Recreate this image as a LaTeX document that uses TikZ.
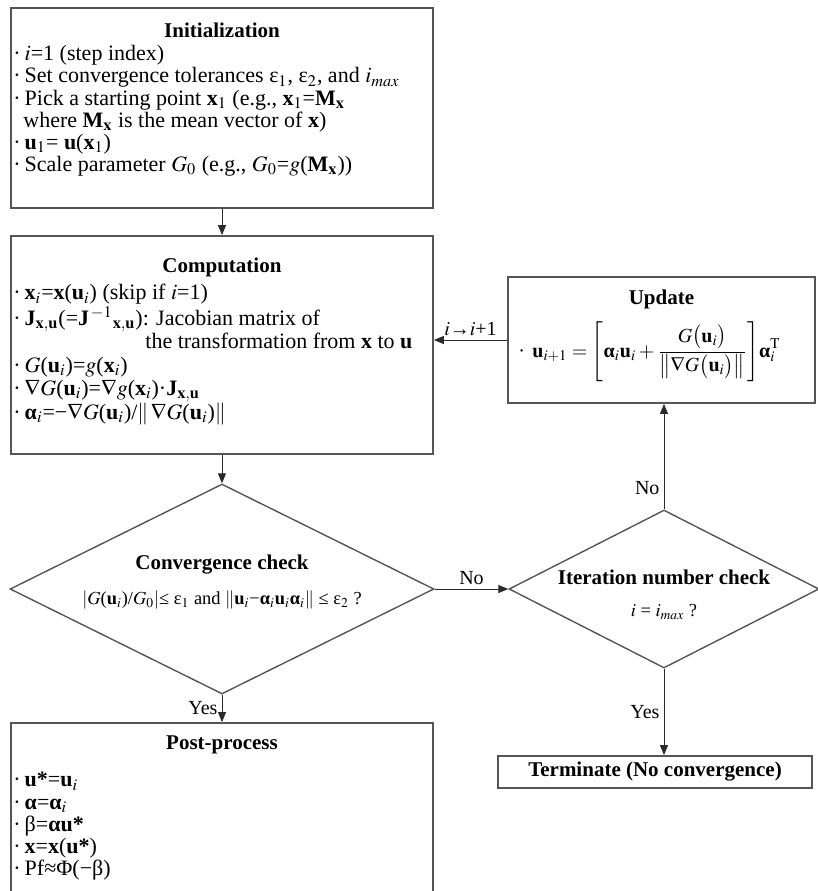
\documentclass[tikz,border=0pt]{standalone}
\usepackage{mathptmx}
\usepackage{fontspec}
\setmainfont{Liberation Serif}
\usetikzlibrary{positioning, shapes.geometric, arrows.meta}
\definecolor{boxline}{HTML}{555555}
\definecolor{flowline}{HTML}{2A2A2A}
\newcommand{\vecu}{\textbf{u}}
\newcommand{\vecx}{\textbf{x}}
\newcommand{\vecal}{\textbf{α}}
\newcommand{\bul}{·\hspace{2pt}}

\tikzset{
  stagebox/.style={rectangle, draw=boxline, line width=0.9pt, inner sep=0pt},
  stagetitle/.style={font=\fontsize{10.5}{12}\selectfont\bfseries, inner sep=0pt},
  stagetext/.style={font=\fontsize{11}{11.1}\selectfont, align=left, inner sep=0pt, anchor=north west},
  checkbox/.style={diamond, draw=boxline, line width=0.7pt, inner sep=0pt},
  checktext/.style={font=\fontsize{9.2}{11}\selectfont, inner sep=0pt},
  flow/.style={draw=flowline, line width=0.5pt, -{Triangle[length=5pt,width=4pt]}},
  flowlabel/.style={font=\fontsize{10}{12}\selectfont, inner sep=2pt}
}

\begin{document}
\begin{tikzpicture}[x=0.5pt, y=-0.5pt]
  \useasboundingbox (0,0) rectangle (818,891);

  % initialization
  \node[stagebox, minimum width=211pt, minimum height=100pt] (init) at (222,108) {};
  \node[stagetitle, below=7.5pt of init.north] (inittitle) {Initialization};
  \node[stagetext] (initbody) at (13,45) {%
    \bul$i$=1 (step index)\\
    \bul Set convergence tolerances ε$_1$, ε$_2$, and $i_{max}$\\
    \bul Pick a starting point \vecx$_1$ (e.g., \vecx$_1$=\textbf{M}$_{\mathbf{x}}$\\
    \hspace*{5pt}where \textbf{M}$_{\mathbf{x}}$ is the mean vector of \vecx)\\
    \bul\vecu$_1$= \vecu(\vecx$_1$)\\
    \bul Scale parameter $G_0$ (e.g., $G_0$=$g$(\textbf{M}$_{\mathbf{x}}$))};

  % computation
  \node[stagebox, minimum width=211pt, minimum height=109pt] (comp) at (222,345) {};
  \node[stagetitle, below=11pt of comp.north] (comptitle) {Computation};
  \node[stagetext, font=\fontsize{11}{11.7}\selectfont] (compbody) at (13,284) {%
    \bul\vecx$_i$=\vecx(\vecu$_i$) (skip if $i$=1)\\
    \bul\textbf{J}$_{\mathbf{x,u}}$(=\textbf{J}$^{\,-1}$$_{\mathbf{x,u}}$): Jacobian matrix of\\
    \hspace*{66pt}the transformation from \vecx{} to \vecu\\
    \bul$G$(\vecu$_i$)=$g$(\vecx$_i$)\\
    \bul$\nabla G$(\vecu$_i$)=$\nabla g$(\vecx$_i$)·\textbf{J}$_{\mathbf{x,u}}$\\
    \bul\vecal$_i$=−$\nabla G$(\vecu$_i$)/$\|\,\nabla G$(\vecu$_i$)$\|$};

  % update
  \node[stagebox, minimum width=153.5pt, minimum height=63pt] (update) at (661.5,340) {};
  \node[stagetitle, below=6.5pt of update.north] (updtitle) {Update};
  \node[stagetext, font=\fontsize{10}{11}\selectfont, anchor=west] (updbody) at (518,352) {%
    \bul\,$\mathbf{u}_{i+1} = \Biggl[\vecal_i\mathbf{u}_i
      + \displaystyle\frac{G\bigl(\mathbf{u}_i\bigr)}{\bigl\|\nabla G\bigl(\mathbf{u}_i\bigr)\bigr\|}\Biggr]\vecal_i^{\mathrm{T}}$};

  % checks
  \node[checkbox, minimum width=212pt, minimum height=105pt] (conv) at (222,589) {};
  \node[stagetitle] (convtitle) at (222,565) {Convergence check};
  \node[checktext] (convcond) at (222,600)
    {$|G$(\vecu$_i$)/$G_0|$≤ ε$_1$ and $\|$\vecu$_i$−\vecal$_i$\vecu$_i$\vecal$_i\|$ ≤ ε$_2$ ?};
  \node[checkbox, minimum width=155pt, minimum height=79pt] (iter) at (664,589) {};
  \node[stagetitle] (itertitle) at (664,577) {Iteration number check};
  \node[checktext] (itercond) at (664,612) {$i$ = $i_{max}$ ?};

  % post-process
  \node[stagebox, minimum width=211pt, minimum height=85pt] (post) at (222,808) {};
  \node[stagetitle, below=6.5pt of post.north] (posttitle) {Post-process};
  \node[stagetext] (postbody) at (13,772) {%
    \bul\textbf{u*}=\vecu$_i$\\
    \bul\vecal=\vecal$_i$\\
    \bul β=\textbf{αu*}\\
    \bul\vecx=\vecx(\textbf{u*})\\
    \bul Pf≈Φ(−β)};

  \node[stagebox, minimum width=157pt, minimum height=16pt, font=\fontsize{10.5}{12}\selectfont\bfseries]
    (term) at (655,772) {Terminate (No convergence)};

  % connectors
  \draw[flow] (init.south) -- (comp.north);
  \draw[flow] (comp.south) -- (conv.north);
  \draw[flow] (conv.south) -- (post.north) node[flowlabel, midway, left] {Yes};
  \draw[flow] (conv.east) -- (iter.west) node[flowlabel, midway, above] {No};
  \draw[flow] (iter.north) -- (iter.north |- update.south) node[flowlabel, pos=0.2, left] {No};
  \draw[flow] (iter.south) -- (iter.south |- term.north) node[flowlabel, midway, left] {Yes};
  \draw[flow] (update.west) -- (update.west -| comp.east) node[flowlabel, midway, above] {$i$→$i$+1};
\end{tikzpicture}
\end{document}
